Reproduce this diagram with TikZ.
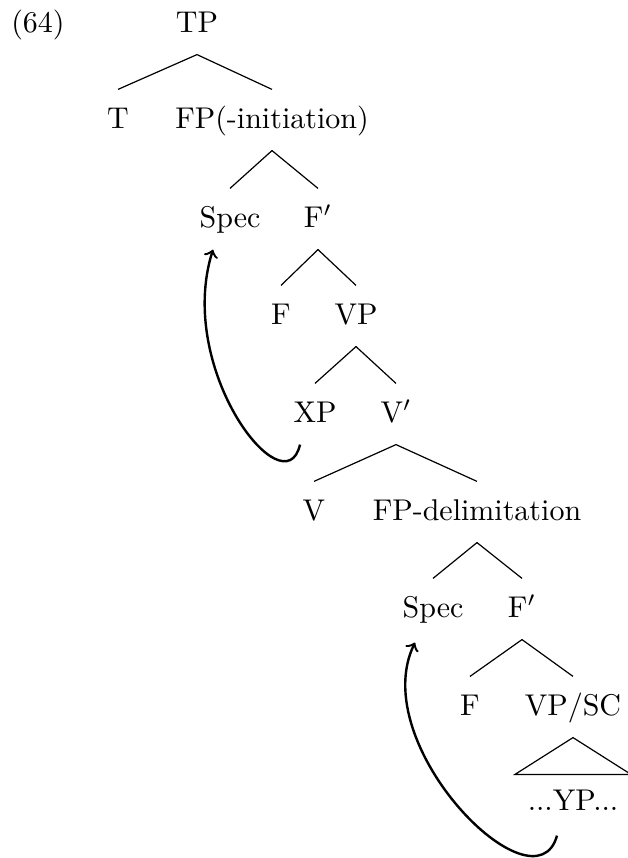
\documentclass[tikz,border=0pt]{standalone}
\begin{document}
\begin{tikzpicture}[x=0.33333pt,y=-0.33333pt,
  lbl/.style={inner xsep=0pt, inner ysep=5.5pt, text height=7.17pt, text depth=1.83pt, anchor=base},
  edge/.style={line width=0.4pt},
  mv/.style={->, line width=0.8pt}]
\useasboundingbox (0,0) rectangle (628,858);
\node[lbl] (ex) at (38,32) {(64)};
\node[lbl] (TP) at (197,32) {TP};
\node[lbl] (T) at (118,128) {T};
\node[lbl] (FPi) at (272,128) {FP(-initiation)};
\node[lbl] (Spec1) at (230,227) {Spec};
\node[lbl] (F1b) at (318,227) {F$'$};
\node[lbl] (F1) at (281,324) {F};
\node[lbl] (VP) at (356,324) {VP};
\node[lbl] (XP) at (315,422) {XP};
\node[lbl] (V1b) at (396,422) {V$'$};
\node[lbl] (V) at (314,520) {V};
\node[lbl] (FPd) at (477,520) {FP-delimitation};
\node[lbl] (Spec2) at (433,617) {Spec};
\node[lbl] (F2b) at (522,617) {F$'$};
\node[lbl] (F2) at (470,715) {F};
\node[lbl] (VPSC) at (573,715) {VP/SC};
\node[lbl] (YP) at (573,810) {...YP...};
\draw[edge] (T.north) -- (TP.south) -- (FPi.north);
\draw[edge] (Spec1.north) -- (FPi.south) -- (F1b.north);
\draw[edge] (F1.north) -- (F1b.south) -- (VP.north);
\draw[edge] (XP.north) -- (VP.south) -- (V1b.north);
\draw[edge] (V.north) -- (V1b.south) -- (FPd.north);
\draw[edge] (Spec2.north) -- (FPd.south) -- (F2b.north);
\draw[edge] (F2.north) -- (F2b.south) -- (VPSC.north);
\draw[edge] (VPSC.south) -- ([xshift=-19.33pt,yshift=-1pt]YP.north) -- ([xshift=19.33pt,yshift=-1pt]YP.north) -- cycle;
\draw[mv] ([xshift=-5pt]XP.south) .. controls (285,510) and (175,370) .. ([xshift=-5.67pt]Spec1.south);
\draw[mv] ([xshift=-5.33pt,yshift=-1pt]YP.south) .. controls (535,915) and (365,745) .. ([xshift=-6pt,yshift=-1pt]Spec2.south);
\end{tikzpicture}
\end{document}
